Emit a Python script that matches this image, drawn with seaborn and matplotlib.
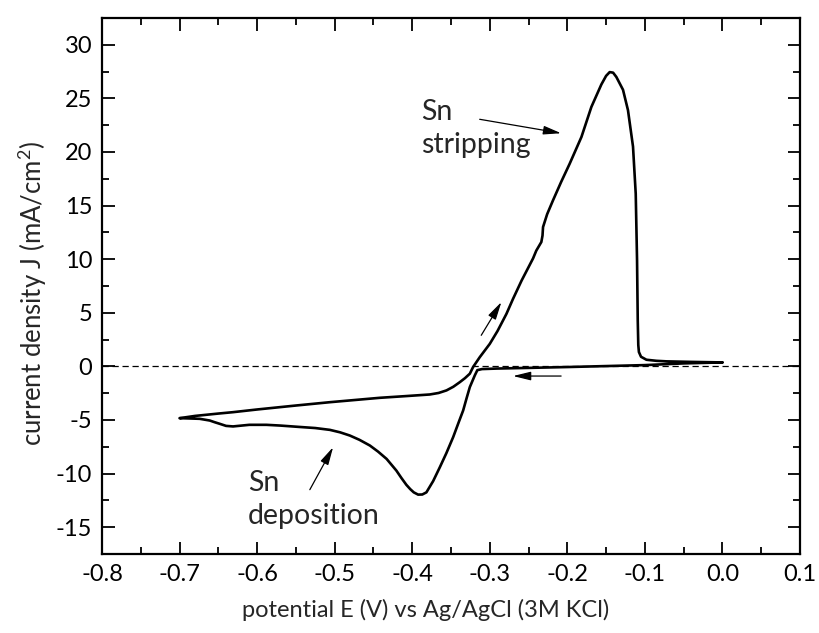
import numpy as np
import pandas as pd
import matplotlib
matplotlib.use("Agg")
import matplotlib.pyplot as plt
from matplotlib.ticker import MultipleLocator
import seaborn as sns

# Cathodic scan: 0.0 V down to the -0.70 V vertex
E_cathodic = [0.0, -0.05, -0.10, -0.15, -0.20, -0.25, -0.29, -0.31, -0.316, -0.3193,
              -0.322, -0.3257, -0.3300, -0.3343, -0.3400, -0.3472, -0.3560, -0.3644,
              -0.3730, -0.3817, -0.3870, -0.3924, -0.3980, -0.4025, -0.4075, -0.4140,
              -0.4204, -0.4330, -0.4440, -0.4546, -0.4680, -0.4804, -0.4930, -0.5062,
              -0.525, -0.545, -0.570, -0.588, -0.610, -0.631, -0.640, -0.648, -0.655,
              -0.661, -0.674, -0.690, -0.700]
J_cathodic = [0.37, 0.28, 0.12, 0.03, -0.06, -0.14, -0.20, -0.25, -0.35, -0.84,
              -1.3, -1.93, -3.0, -4.11, -5.2, -6.6, -8.1, -9.41,
              -10.7, -11.75, -11.95, -11.96, -11.75, -11.45, -11.05, -10.4,
              -9.72, -8.63, -7.95, -7.38, -6.85, -6.45, -6.15, -5.92,
              -5.75, -5.65, -5.52, -5.45, -5.45, -5.6, -5.55, -5.36, -5.2,
              -5.05, -4.89, -4.85, -4.83]

# Anodic scan: back from -0.70 V to 0.0 V, through the stripping peak
E_anodic = [-0.700, -0.680, -0.650, -0.631, -0.600, -0.550, -0.5062, -0.4417, -0.4100,
            -0.3773, -0.3660, -0.3558, -0.3470, -0.3386, -0.3320, -0.3257, -0.3215,
            -0.313, -0.300, -0.290, -0.2785, -0.270, -0.259, -0.2442, -0.240, -0.2335,
            -0.2320, -0.2313, -0.2260, -0.2184, -0.2080, -0.197, -0.1818, -0.169,
            -0.1561, -0.150, -0.1454, -0.1410, -0.1368, -0.1282, -0.1218, -0.1153,
            -0.1118, -0.1101, -0.1092, -0.1085, -0.1077, -0.105, -0.098, -0.085,
            -0.072, -0.040, 0.0]
J_anodic = [-4.83, -4.62, -4.40, -4.27, -4.02, -3.65, -3.34, -2.93, -2.78,
            -2.62, -2.48, -2.24, -1.9, -1.47, -1.1, -0.68, -0.06,
            0.85, 2.1, 3.3, 4.9, 6.3, 8.0, 10.07, 10.8, 11.6,
            12.2, 13.0, 14.2, 15.5, 17.2, 18.9, 21.4, 24.2,
            26.3, 27.1, 27.45, 27.4, 27.0, 25.8, 23.9, 20.5,
            16.1, 9.9, 4.3, 2.0, 1.34, 0.9, 0.62, 0.52,
            0.47, 0.42, 0.37]

x_ticks = [-0.8, -0.7, -0.6, -0.5, -0.4, -0.3, -0.2, -0.1, 0.0, 0.1]
y_ticks = [-15, -10, -5, 0, 5, 10, 15, 20, 25, 30]

cv = pd.DataFrame({
    "E": E_cathodic + E_anodic,
    "J": J_cathodic + J_anodic,
})

sns.set_theme(style="ticks")
plt.rcParams["font.family"] = ["Lato", "DejaVu Sans"]
plt.rcParams["mathtext.fontset"] = "custom"
plt.rcParams["mathtext.rm"] = "Lato"
plt.rcParams["mathtext.it"] = "Lato"

fig = plt.figure(figsize=(8.19, 6.33), dpi=100)
ax = fig.add_axes([0.1245, 0.1248, 0.8523, 0.8468])

ax.axhline(0, color="black", lw=0.9, linestyle=(0, (5, 3)), zorder=1)
sns.lineplot(data=cv, x="E", y="J", sort=False, estimator=None, color="black",
             lw=1.9, ax=ax, zorder=3)

ax.set_xlim(-0.8, 0.1)
ax.set_ylim(-17.5, 32.5)
ax.set_xticks(x_ticks)
ax.set_xticklabels([f"{v:.1f}" for v in x_ticks])
ax.set_yticks(y_ticks)
ax.set_yticklabels([str(v) for v in y_ticks])
ax.xaxis.set_minor_locator(MultipleLocator(0.05))
ax.yaxis.set_minor_locator(MultipleLocator(2.5))

for side in ["left", "right", "top", "bottom"]:
    ax.spines[side].set_visible(True)
    ax.spines[side].set_linewidth(1.6)
    ax.spines[side].set_color("black")

ax.tick_params(which="both", direction="in", top=True, right=True,
               color="black", width=1.3, labelsize=17, labelcolor="black")
ax.tick_params(which="major", length=9, pad=7)
ax.tick_params(which="minor", length=5)

ax.set_xlabel("potential E (V) vs Ag/AgCl (3M KCl)", fontsize=17, labelpad=10,
              x=0.464)
ax.set_ylabel(r"current density J (mA/cm$^{2}$)", fontsize=18.5, labelpad=5,
              y=0.487)

arrow = dict(arrowstyle="-|>,head_length=0.9,head_width=0.22", color="black",
             lw=0.9, shrinkA=0, shrinkB=0)

ax.text(-0.388, 23.0, "Sn", fontsize=20.5, va="baseline", ha="left")
ax.text(-0.388, 19.9, "stripping", fontsize=20.5, va="baseline", ha="left")
ax.annotate("", xy=(-0.208, 21.75), xytext=(-0.313, 23.05), arrowprops=arrow)

ax.text(-0.612, -11.6, "Sn", fontsize=20.5, va="baseline", ha="left")
ax.text(-0.612, -14.7, "deposition", fontsize=20.5, va="baseline", ha="left")
ax.annotate("", xy=(-0.502, -7.54), xytext=(-0.532, -11.5), arrowprops=arrow)

ax.annotate("", xy=(-0.285, 6.0), xytext=(-0.311, 2.9), arrowprops=arrow)
ax.annotate("", xy=(-0.270, -0.9), xytext=(-0.208, -0.9), arrowprops=arrow)

fig.savefig("out.png", dpi=100)
